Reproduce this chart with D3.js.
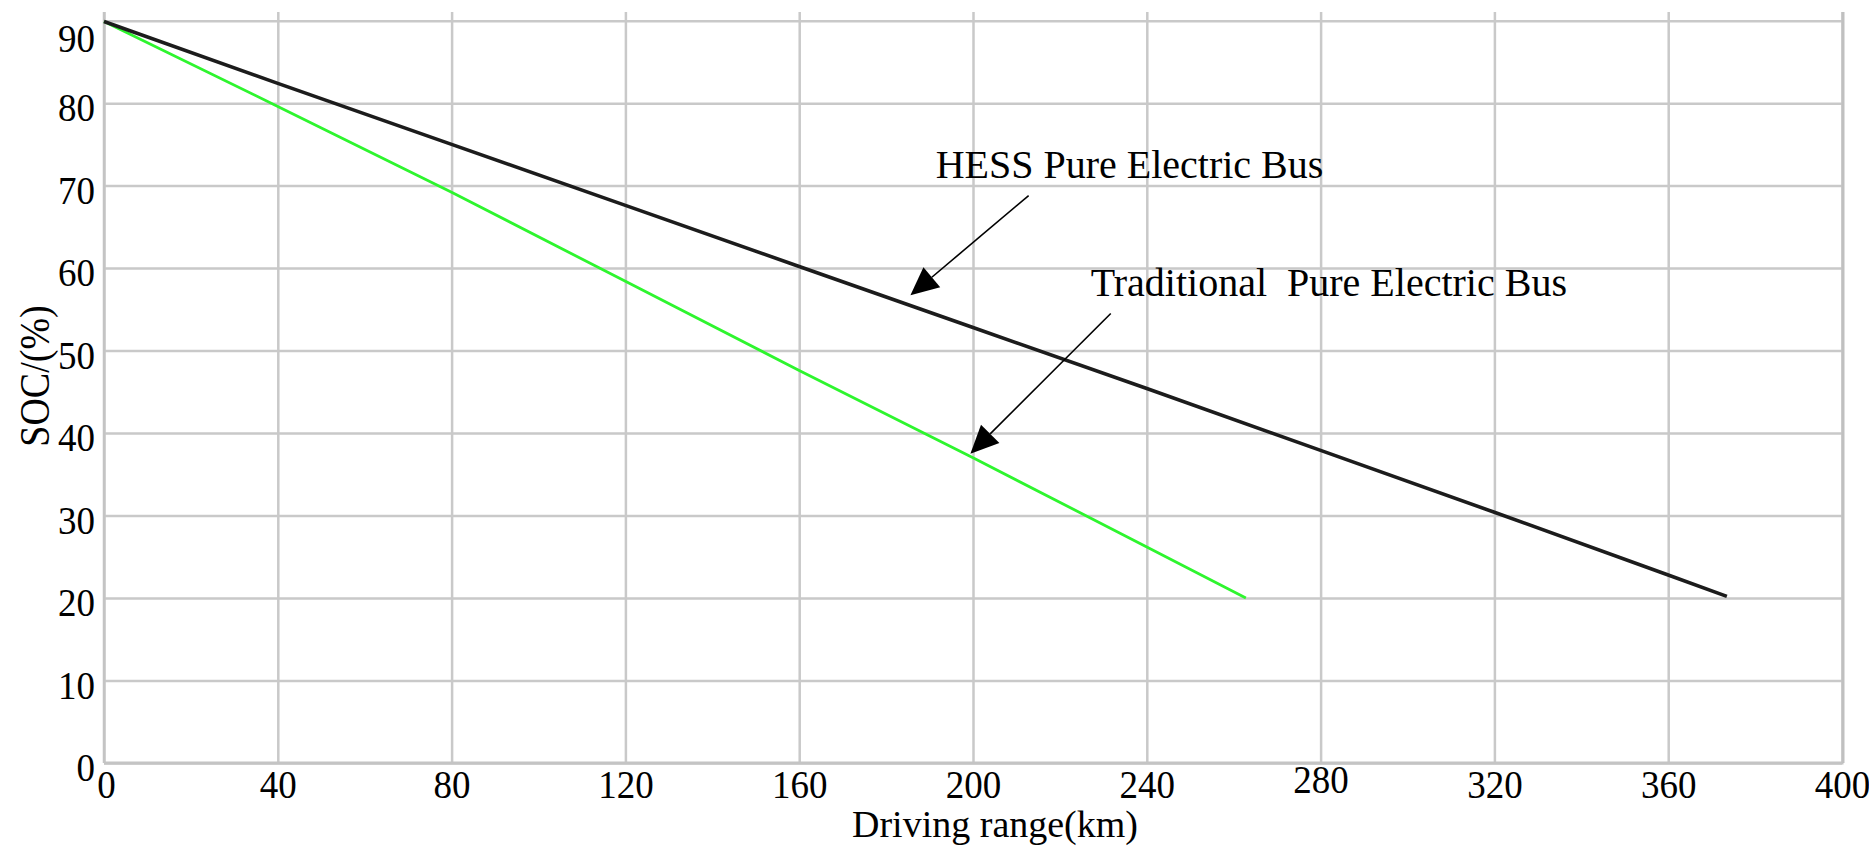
<!DOCTYPE html>
<html>
<head>
<meta charset="utf-8">
<script src="https://cdn.jsdelivr.net/npm/d3@7"></script>
<style>
  html, body { margin: 0; padding: 0; background: #fff; }
  svg { display: block; }
  text { font-family: "Liberation Serif", "Times New Roman", serif; fill: #000; }
</style>
</head>
<body>
<svg id="chart" width="1869" height="853"></svg>
<script>
// ---- data ----
const xTickValues = [0, 40, 80, 120, 160, 200, 240, 280, 320, 360, 400];
const yTickValues = [0, 10, 20, 30, 40, 50, 60, 70, 80, 90];

const hessRange = [0, 40, 80, 120, 160, 200, 240, 280, 320, 360, 373.5];
const hessSOC   = [89.9, 82.4, 75.0, 67.6, 60.2, 52.8, 45.4, 37.9, 30.4, 22.8, 20.2];

const tradRange = [0, 40, 80, 120, 160, 200, 240, 262.8];
const tradSOC   = [89.9, 79.6, 69.2, 58.4, 47.6, 37.0, 26.2, 20.0];

const seriesNames = ["HESS Pure Electric Bus", "Traditional  Pure Electric Bus"];
// annotation anchors in data units: [label x, label y, tail x, tail y, tip x, tip y]
const hessNote = [191.4, 70.9, 212.8, 68.8, 185.6, 56.7];
const tradNote = [227.1, 56.6, 231.7, 54.5, 199.4, 37.5];

const xTitle = "Driving range(km)";
const yTitle = "SOC/(%)";
const xMax = 400, yMax = 91.05;

(function () {
// ---- layout ----
const svg = d3.select("#chart");
const mLeft = 104, mRight = 1842, mTop = 12, mBottom = 763;

const x = d3.scaleLinear().domain([0, xMax]).range([mLeft, mRight]);
const y = d3.scaleLinear().domain([0, yMax]).range([mBottom, mTop]);

const gridColor = "#c9c9c9";
const sy = 1.08;

// vertical grid
const gx = svg.append("g").attr("transform", `translate(0,${mBottom})`)
  .call(d3.axisBottom(x).tickValues(xTickValues).tickSize(-(mBottom - mTop)).tickFormat(""));
gx.select(".domain").remove();
gx.selectAll("line").attr("stroke", gridColor).attr("stroke-width", 2.5);

// horizontal grid
const gy = svg.append("g").attr("transform", `translate(${mLeft},0)`)
  .call(d3.axisLeft(y).tickValues(yTickValues).tickSize(-(mRight - mLeft)).tickFormat(""));
gy.select(".domain").remove();
gy.selectAll("line").attr("stroke", gridColor).attr("stroke-width", 2.5);

// frame lines (left, bottom, right)
svg.append("line").attr("x1", x(0)).attr("x2", x(0)).attr("y1", y(yMax)).attr("y2", y(0))
  .attr("stroke", "#c4c4c4").attr("stroke-width", 2.5);
svg.append("line").attr("x1", x(0)).attr("x2", x(xMax) + 1.5).attr("y1", y(0)).attr("y2", y(0))
  .attr("stroke", "#c4c4c4").attr("stroke-width", 3);
svg.append("line").attr("x1", x(xMax) + 1).attr("x2", x(xMax) + 1).attr("y1", y(yMax)).attr("y2", y(0))
  .attr("stroke", "#c0c0c0").attr("stroke-width", 3);

// x tick labels
const xl = svg.append("g").attr("transform", `translate(0,${mBottom})`)
  .call(d3.axisBottom(x).tickValues(xTickValues).tickSize(0).tickFormat(d3.format("d")));
xl.select(".domain").remove();
xl.selectAll("text")
  .attr("font-size", 37)
  .attr("dy", 0)
  .attr("y", d => (d === 280 ? 30 : 35.5) / sy)
  .attr("x", d => d === 0 ? 2 : 0)
  .attr("transform", `scale(1,${sy})`)
  .attr("font-family", "Liberation Serif, Times New Roman, serif")
  .attr("fill", "#000");

// y tick labels
const yl = svg.append("g").attr("transform", `translate(${mLeft},0)`)
  .call(d3.axisLeft(y).tickValues(yTickValues).tickSize(0).tickFormat(d3.format("d")));
yl.select(".domain").remove();
yl.selectAll(".tick").each(function(d) {
  const t = d3.select(this).select("text");
  const base = d === 90 ? 31 : 17.5;
  t.attr("font-size", 37)
   .attr("dy", 0)
   .attr("x", -9)
   .attr("y", base / sy)
   .attr("transform", `scale(1,${sy})`)
   .attr("text-anchor", "end")
   .attr("font-family", "Liberation Serif, Times New Roman, serif")
   .attr("fill", "#000");
});

// axis titles
svg.append("text").attr("x", (x(0) + x(xMax)) / 2 + 22).attr("y", 837)
  .attr("text-anchor", "middle").attr("font-size", 38).text(xTitle);
svg.append("text")
  .attr("transform", `translate(49,${376}) rotate(-90) scale(1,1.1)`)
  .attr("text-anchor", "middle").attr("font-size", 38).text(yTitle);

// series lines
const line = d3.line().x(d => x(d[0])).y(d => y(d[1]));
svg.append("path").datum(d3.zip(tradRange, tradSOC)).attr("d", line)
  .attr("fill", "none").attr("stroke", "#2ef52e").attr("stroke-width", 2.8);
svg.append("path").datum(d3.zip(hessRange, hessSOC)).attr("d", line)
  .attr("fill", "none").attr("stroke", "#1c1c1c").attr("stroke-width", 3.6);

// annotations
function annotate(note, label) {
  const [lx, ly, tx, ty, px, py] = note;
  const X1 = x(tx), Y1 = y(ty), X2 = x(px), Y2 = y(py);
  const dx = X2 - X1, dy = Y2 - Y1, len = Math.hypot(dx, dy);
  const ux = dx / len, uy = dy / len;
  const headLen = 28, headW = 13;
  const bx = X2 - ux * headLen, by = Y2 - uy * headLen;
  svg.append("line").attr("x1", X1).attr("y1", Y1).attr("x2", bx).attr("y2", by)
    .attr("stroke", "#000").attr("stroke-width", 1.6);
  svg.append("path")
    .attr("d", `M${X2},${Y2}L${bx - uy * headW},${by + ux * headW}L${bx + uy * headW},${by - ux * headW}Z`)
    .attr("fill", "#000");
  svg.append("text").attr("x", x(lx)).attr("y", y(ly))
    .attr("font-size", 40).attr("xml:space", "preserve").style("white-space", "pre")
    .text(label);
}
annotate(hessNote, seriesNames[0]);
annotate(tradNote, seriesNames[1]);
})();
</script>
</body>
</html>
